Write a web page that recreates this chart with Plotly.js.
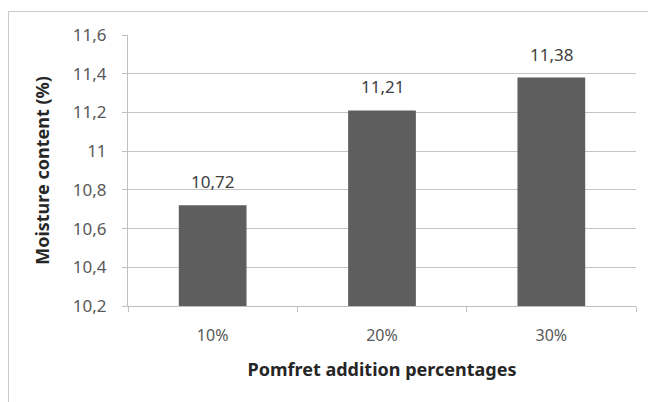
<!DOCTYPE html>
<html>
<head>
<meta charset="utf-8">
<script src="https://cdn.plot.ly/plotly-3.0.1.min.js"></script>
<style>
  html, body { margin: 0; padding: 0; background: #fff; }
  #frame { position: absolute; left: 8px; top: 11px; width: 660px; height: 420px;
           border-left: 1px solid #c9c9c9; border-top: 1px solid #c9c9c9; }
  #chart { position: absolute; left: 0; top: 0; width: 648px; height: 402px; }
</style>
</head>
<body>
<div id="frame"></div>
<div id="chart"></div>
<script>
// Moisture content of the product at each pomfret addition level
const categories = ['10%', '20%', '30%'];
const moisture = [10.72, 11.21, 11.38];
const yTicks = [10.2, 10.4, 10.6, 10.8, 11, 11.2, 11.4, 11.6];

const font = 'Noto Sans, Open Sans, sans-serif';
const fmt = v => v.toFixed(2).replace('.', ',');

const trace = {
  type: 'bar',
  x: categories,
  y: moisture,
  marker: { color: '#5e5e5e', line: { width: 0 } },
  hoverinfo: 'none'
};

// value labels sitting above each bar
const labels = categories.map((c, i) => ({
  x: c,
  y: moisture[i],
  xref: 'x',
  yref: 'y',
  text: fmt(moisture[i]),
  showarrow: false,
  yanchor: 'bottom',
  yshift: 10,
  font: { family: font, size: 17, color: '#404040' }
}));

const layout = {
  width: 648,
  height: 402,
  margin: { l: 128, r: 12, t: 35, b: 96 },
  paper_bgcolor: 'rgba(0,0,0,0)',
  plot_bgcolor: 'rgba(0,0,0,0)',
  separators: ',.',
  bargap: 0.6,
  showlegend: false,
  font: { family: font, size: 16, color: '#595959' },
  annotations: labels,
  xaxis: {
    type: 'category',
    showgrid: false,
    showline: true,
    linecolor: '#bfbfbf',
    linewidth: 1,
    ticks: 'outside',
    tickson: 'boundaries',
    ticklen: 5,
    tickcolor: '#bfbfbf',
    ticklabelstandoff: 15,
    tickfont: { family: font, size: 16, color: '#595959' },
    title: { text: 'Pomfret addition percentages', standoff: 18,
             font: { family: font, size: 18, color: '#262626', weight: 'bold' } }
  },
  yaxis: {
    range: [10.2, 11.6],
    tickvals: yTicks,
    showgrid: true,
    gridcolor: '#c4c4c4',
    gridwidth: 1,
    zeroline: false,
    showline: true,
    linecolor: '#bfbfbf',
    linewidth: 1,
    ticks: 'outside',
    ticklen: 5,
    tickcolor: '#bfbfbf',
    ticklabelstandoff: 12,
    tickfont: { family: font, size: 17, color: '#595959' },
    title: { text: 'Moisture content (%)', standoff: 18,
             font: { family: font, size: 18, color: '#262626', weight: 'bold' } }
  }
};

Plotly.newPlot('chart', [trace], layout, { staticPlot: true, displayModeBar: false });
</script>
</body>
</html>
